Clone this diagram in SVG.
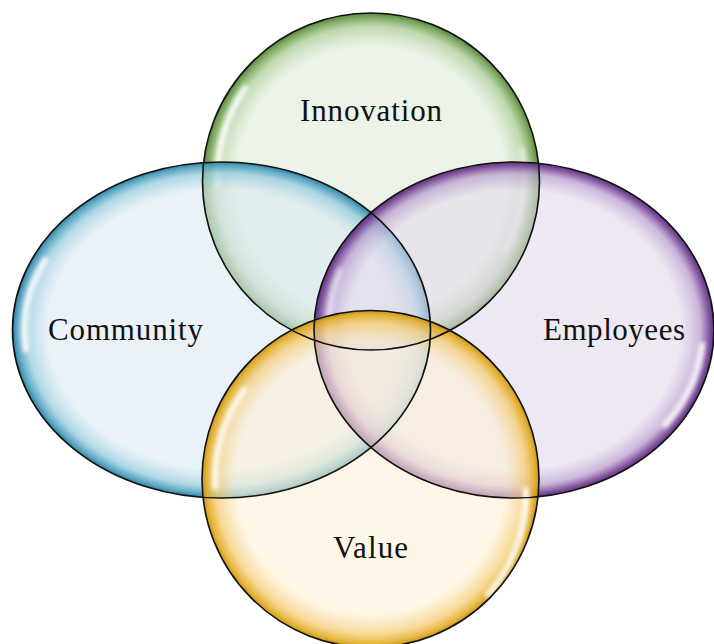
<svg xmlns="http://www.w3.org/2000/svg" width="714" height="644" viewBox="0 0 714 644">
<defs>
<style>
.outline{fill:none;stroke:#111;stroke-width:1.6}
.lbl{font-family:"Liberation Serif","DejaVu Serif",serif;font-size:31px;fill:#111;text-anchor:middle}
.hl{fill:none;stroke:#fff;stroke-width:6;stroke-linecap:round;filter:url(#blur)}
</style>
<filter id="blur" x="-50%" y="-50%" width="200%" height="200%"><feGaussianBlur stdDeviation="2.2"/></filter>
<radialGradient id="gGreen" cx="0.5" cy="0.5" r="0.5">
<stop offset="0" stop-color="rgb(223,235,217)" stop-opacity="0.6"/>
<stop offset="0.8" stop-color="rgb(223,235,217)" stop-opacity="0.6"/>
<stop offset="0.92" stop-color="rgb(170,204,148)" stop-opacity="0.75"/>
<stop offset="0.975" stop-color="rgb(110,158,80)" stop-opacity="0.9"/>
<stop offset="1" stop-color="rgb(80,128,52)" stop-opacity="0.95"/>
</radialGradient>
<radialGradient id="gBlue" cx="0.5" cy="0.5" r="0.5">
<stop offset="0" stop-color="rgb(220,233,243)" stop-opacity="0.6"/>
<stop offset="0.83" stop-color="rgb(220,233,243)" stop-opacity="0.6"/>
<stop offset="0.93" stop-color="rgb(150,204,222)" stop-opacity="0.75"/>
<stop offset="0.98" stop-color="rgb(70,155,186)" stop-opacity="0.9"/>
<stop offset="1" stop-color="rgb(40,120,155)" stop-opacity="0.95"/>
</radialGradient>
<radialGradient id="gPurple" cx="0.5" cy="0.5" r="0.5">
<stop offset="0" stop-color="rgb(227,217,235)" stop-opacity="0.6"/>
<stop offset="0.83" stop-color="rgb(227,217,235)" stop-opacity="0.6"/>
<stop offset="0.93" stop-color="rgb(185,158,206)" stop-opacity="0.75"/>
<stop offset="0.98" stop-color="rgb(112,62,145)" stop-opacity="0.9"/>
<stop offset="1" stop-color="rgb(85,42,118)" stop-opacity="0.95"/>
</radialGradient>
<radialGradient id="gYellow" cx="0.5" cy="0.5" r="0.5">
<stop offset="0" stop-color="rgb(253,240,213)" stop-opacity="0.6"/>
<stop offset="0.8" stop-color="rgb(253,240,213)" stop-opacity="0.6"/>
<stop offset="0.92" stop-color="rgb(245,206,120)" stop-opacity="0.78"/>
<stop offset="0.975" stop-color="rgb(226,172,36)" stop-opacity="0.9"/>
<stop offset="1" stop-color="rgb(195,145,15)" stop-opacity="0.95"/>
</radialGradient>
</defs>
<rect width="714" height="644" fill="#fff"/>
<g id="innovation">
<circle cx="371" cy="181.5" r="168.5" fill="url(#gGreen)"/>
<path class="hl" d="M 245 88 A 155 155 0 0 0 218 185" opacity="0.9"/>
<path class="hl" d="M 522 150 A 155 155 0 0 1 505 250" opacity="0.5"/>
<text class="lbl" x="371" y="121" textLength="142" lengthAdjust="spacing">Innovation</text>
</g>
<g id="community">
<ellipse cx="221.5" cy="330" rx="209" ry="168" fill="url(#gBlue)"/>
<path class="hl" d="M 45 260 A 197 156 0 0 0 26 350" opacity="0.9"/>
<text class="lbl" x="125.5" y="340" textLength="155" lengthAdjust="spacing">Community</text>
</g>
<g id="employees">
<ellipse cx="514" cy="330" rx="200" ry="168" fill="url(#gPurple)"/>
<path class="hl" d="M 702 345 A 188 156 0 0 1 665 425" opacity="0.9"/>
<path class="hl" d="M 340 270 A 188 156 0 0 0 330 340" opacity="0.5"/>
<text class="lbl" x="614" y="340" textLength="142" lengthAdjust="spacing">Employees</text>
</g>
<g id="value">
<circle cx="370.5" cy="479" r="168.5" fill="url(#gYellow)"/>
<path class="hl" d="M 244 390 A 156 156 0 0 0 215 487" opacity="0.85"/>
<path class="hl" d="M 526 490 A 156 156 0 0 1 488 595" opacity="0.95"/>
<text class="lbl" x="370.5" y="558" textLength="75" lengthAdjust="spacing">Value</text>
</g>
<g id="outlines">
<circle class="outline" cx="371" cy="181.5" r="168.5"/>
<ellipse class="outline" cx="221.5" cy="330" rx="209" ry="168"/>
<ellipse class="outline" cx="514" cy="330" rx="200" ry="168"/>
<circle class="outline" cx="370.5" cy="479" r="168.5"/>
</g>
</svg>
